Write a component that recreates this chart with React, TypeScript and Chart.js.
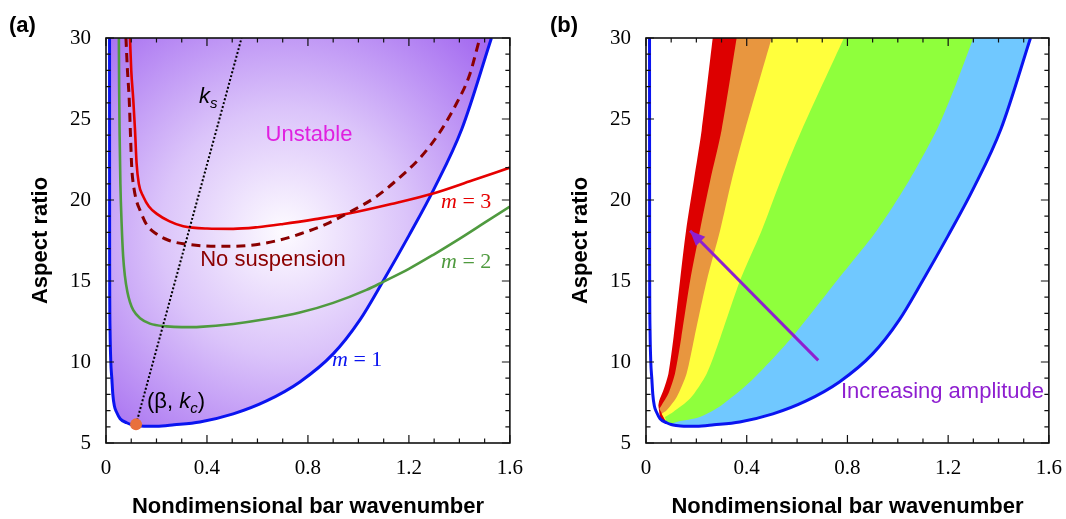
import React, { useEffect, useRef } from 'react';
import { Chart, registerables } from 'chart.js';

Chart.register(...registerables);

// ---------------- data ----------------
const xTickValues = [0, 0.4, 0.8, 1.2, 1.6];
const xTickLabels = ['0', '0.4', '0.8', '1.2', '1.6'];
const yTickValues = [5, 10, 15, 20, 25, 30];
const yTickLabels = ['5', '10', '15', '20', '25', '30'];

// m = 1 neutral curve (shared by both panels)
const m1K = [0.014, 0.0142, 0.0145, 0.016, 0.019, 0.023, 0.027, 0.033, 0.042, 0.056, 0.082, 0.1, 0.119, 0.15, 0.2, 0.27, 0.372, 0.504, 0.636, 0.768, 0.9, 1.006, 1.098, 1.2, 1.3, 1.41, 1.527];
const m1A = [30, 22, 16, 12, 10, 9.0, 8.0, 7.3, 6.9, 6.5, 6.25, 6.14, 6.08, 6.03, 6.03, 6.12, 6.3, 6.8, 7.6, 8.77, 10.5, 12.6, 15.0, 17.8, 20.7, 24.4, 30];

// m = 2
const m2K = [0.051, 0.052, 0.054, 0.057, 0.062, 0.068, 0.075, 0.085, 0.095, 0.108, 0.135, 0.174, 0.24, 0.3, 0.372, 0.504, 0.636, 0.768, 0.9, 1.032, 1.098, 1.2, 1.3, 1.4, 1.5, 1.6];
const m2A = [30, 27, 24, 21, 18.5, 16.5, 15.3, 14.3, 13.7, 13.2, 12.7, 12.37, 12.2, 12.15, 12.17, 12.35, 12.65, 13.05, 13.65, 14.45, 14.95, 15.75, 16.65, 17.6, 18.6, 19.6];

// m = 3
const m3K = [0.095, 0.1, 0.108, 0.115, 0.121, 0.13, 0.148, 0.17, 0.2, 0.25, 0.306, 0.4, 0.504, 0.6, 0.702, 0.83, 0.966, 1.13, 1.296, 1.45, 1.6];
const m3A = [30, 28, 26.2, 24.3, 22.3, 21.0, 20.2, 19.6, 19.16, 18.7, 18.38, 18.24, 18.22, 18.32, 18.52, 18.82, 19.18, 19.75, 20.4, 21.2, 22.0];

// no-suspension curve (dashed)
const noSuspK = [0.079, 0.085, 0.092, 0.097, 0.102, 0.11, 0.12, 0.135, 0.16, 0.2, 0.25, 0.306, 0.438, 0.57, 0.68, 0.768, 0.87, 0.966, 1.07, 1.164, 1.25, 1.323, 1.39, 1.44, 1.481];
const noSuspA = [30, 28, 26.2, 24, 22, 20.8, 20, 19.36, 18.5, 17.9, 17.5, 17.3, 17.14, 17.2, 17.5, 17.9, 18.5, 19.26, 20.2, 21.4, 22.7, 24.2, 26.0, 27.7, 30];

// k_s line and critical point (beta, k_c)
const ksK = [0.119, 0.537];
const ksA = [6.15, 30];
const critK = [0.119];
const critA = [6.15];

// panel (b) band boundaries, bottom -> top
const b0K = [0.049, 0.053, 0.069, 0.089, 0.11, 0.135, 0.159, 0.19, 0.221, 0.265];
const b0A = [7.33, 7.64, 8.25, 9.28, 11.6, 15.0, 18.1, 21.2, 24.3, 30];
const b1K = [0.053, 0.062, 0.089, 0.115, 0.14, 0.175, 0.214, 0.255, 0.30, 0.36];
const b1A = [7.12, 7.33, 8.05, 9.28, 11.5, 15.0, 18.1, 21.2, 24.3, 30];
const b2K = [0.062, 0.082, 0.122, 0.161, 0.192, 0.241, 0.294, 0.34, 0.393, 0.499];
const b2A = [6.81, 7.02, 7.84, 9.28, 11.5, 15.0, 18.1, 21.2, 24.3, 30];
const b3K = [0.075, 0.108, 0.175, 0.241, 0.295, 0.373, 0.459, 0.535, 0.618, 0.786];
const b3A = [6.6, 6.91, 7.74, 9.28, 11.5, 15.0, 18.1, 21.2, 24.3, 30];
const b4K = [0.102, 0.122, 0.214, 0.30, 0.42, 0.578, 0.757, 0.916, 1.045, 1.154, 1.23, 1.30];
const b4A = [6.2, 6.3, 6.6, 7.33, 8.87, 11.5, 15.0, 18.1, 21.2, 24.3, 27.1, 30];
const bandColors = ['#dd0000', '#e8963f', '#ffff3c', '#8fff3c', '#70c8ff'];

// arrow (tail -> head)
const arrowK = [0.684, 0.175];
const arrowA = [10.1, 18.1];

// ---------------- helpers ----------------
const SANS = "'Liberation Sans', Arial, Helvetica, sans-serif";
const SERIF = "'Liberation Serif', 'Times New Roman', serif";
const BLUE = '#0a14f0';
const PURPLE = '#8e1fd0';

type P = { x: number; y: number };
const pts = (k: number[], a: number[]): P[] => k.map((v, i) => ({ x: v, y: a[i] }));

function bandPolygon(k: number[], a: number[]): P[] {
  const left = pts(k, a);
  const tipK = k[0];
  const right = pts(m1K, m1A).filter((p) => p.x > tipK + 0.004).reverse();
  // duplicated corner points keep the top corners sharp under spline tension
  return [...left, left[left.length - 1], right[0], ...right];
}

type Part = { t: string; f: string; dy?: number };
function drawParts(ctx: CanvasRenderingContext2D, parts: Part[], x: number, y: number, color: string, align: 'left' | 'center' = 'left') {
  ctx.fillStyle = color;
  ctx.textBaseline = 'alphabetic';
  ctx.textAlign = 'left';
  let w = 0;
  for (const p of parts) { ctx.font = p.f; w += ctx.measureText(p.t).width; }
  let cx = align === 'center' ? x - w / 2 : x;
  for (const p of parts) {
    ctx.font = p.f;
    ctx.fillText(p.t, cx, y + (p.dy || 0));
    cx += ctx.measureText(p.t).width;
  }
}

function framePlugin(id: string, texts: (ctx: CanvasRenderingContext2D, chart: any) => void) {
  return {
    id,
    afterDatasetsDraw(chart: any) {
      const { ctx, chartArea } = chart;
      const { left, right, top, bottom } = chartArea;
      const xs = chart.scales.x;
      const ys = chart.scales.y;
      ctx.save();
      ctx.strokeStyle = '#111';
      ctx.lineWidth = 1.2;
      ctx.beginPath();
      for (let i = 0; i <= 16; i++) {
        const px = xs.getPixelForValue(i * 0.1);
        const L = i % 4 === 0 ? 8 : 4.5;
        ctx.moveTo(px, bottom); ctx.lineTo(px, bottom - L);
        ctx.moveTo(px, top); ctx.lineTo(px, top + L);
      }
      for (let v = 5; v <= 30; v++) {
        const py = ys.getPixelForValue(v);
        const L = v % 5 === 0 ? 8 : 4.5;
        ctx.moveTo(left, py); ctx.lineTo(left + L, py);
        ctx.moveTo(right, py); ctx.lineTo(right - L, py);
      }
      ctx.stroke();
      ctx.lineWidth = 1.6;
      ctx.strokeRect(left, top, right - left, bottom - top);
      texts(ctx, chart);
      ctx.restore();
    },
  };
}

function scalesFor(yWidth: number) {
  return {
    x: {
      type: 'linear' as const,
      min: 0,
      max: 1.6,
      afterBuildTicks: (s: any) => { s.ticks = xTickValues.map((v) => ({ value: v })); },
      afterFit: (s: any) => { s.height = 76; },
      grid: { display: false, drawTicks: false },
      border: { display: false },
      ticks: {
        callback: (v: any) => { const i = xTickValues.indexOf(Number(v)); return i >= 0 ? xTickLabels[i] : ''; },
        font: { family: SERIF, size: 21 },
        color: '#000',
        padding: 13,
        maxRotation: 0,
        autoSkip: false,
      },
      title: {
        display: true,
        text: 'Nondimensional bar wavenumber',
        font: { family: SANS, size: 22, weight: 'bold' as const, lineHeight: 1 },
        color: '#000',
        padding: { top: 0, bottom: 1 },
      },
    },
    y: {
      type: 'linear' as const,
      min: 5,
      max: 30,
      afterBuildTicks: (s: any) => { s.ticks = yTickValues.map((v) => ({ value: v })); },
      afterFit: (s: any) => { s.width = yWidth; },
      grid: { display: false, drawTicks: false },
      border: { display: false },
      ticks: {
        callback: (v: any) => { const i = yTickValues.indexOf(Number(v)); return i >= 0 ? yTickLabels[i] : ''; },
        font: { family: SERIF, size: 21 },
        color: '#000',
        padding: 15,
        autoSkip: false,
      },
      title: {
        display: true,
        text: 'Aspect ratio',
        font: { family: SANS, size: 22, weight: 'bold' as const, lineHeight: 1 },
        color: '#000',
        padding: { top: 29.5, bottom: 0 },
      },
    },
  };
}

const smooth = { pointRadius: 0, pointHoverRadius: 0, fill: false, cubicInterpolationMode: 'monotone' as const };

function configA(): any {
  return {
    type: 'line',
    data: {
      datasets: [
        {
          ...smooth,
          label: 'm = 1',
          data: pts(m1K, m1A),
          borderColor: BLUE,
          borderWidth: 3,
          fill: 'shape',
          backgroundColor: (c: any) => {
            const chart = c.chart;
            const ca = chart.chartArea;
            if (!ca) return 'rgba(0,0,0,0)';
            const cx = ca.left + (ca.right - ca.left) * 0.44;
            const cy = ca.top + (ca.bottom - ca.top) * 0.48;
            const g = chart.ctx.createRadialGradient(cx, cy, 0, cx, cy, 275);
            g.addColorStop(0, '#fdfbff');
            g.addColorStop(0.45, '#dbc4fa');
            g.addColorStop(1, '#a46af0');
            return g;
          },
          order: 10,
        },
        { ...smooth, label: 'm = 2', data: pts(m2K, m2A), borderColor: '#4f9a3f', borderWidth: 2.6, order: 5 },
        { ...smooth, label: 'm = 3', data: pts(m3K, m3A), borderColor: '#e60000', borderWidth: 2.6, order: 4 },
        { ...smooth, label: 'No suspension', data: pts(noSuspK, noSuspA), borderColor: '#8b0000', borderWidth: 3, borderDash: [9, 6], order: 3 },
        { pointRadius: 0, fill: false, label: 'ks', data: pts(ksK, ksA), borderColor: '#000', borderWidth: 2, borderDash: [2, 2], tension: 0, order: 2 },
        {
          label: 'critical', data: pts(critK, critA), showLine: false, pointRadius: 6, pointHoverRadius: 6,
          pointBackgroundColor: '#e8703c', pointBorderWidth: 0, pointBorderColor: '#e8703c', order: 1,
        },
      ],
    },
    options: {
      animation: false,
      responsive: false,
      events: [],
      layout: { padding: { left: 0, top: 38, right: 26, bottom: 0 } },
      plugins: { legend: { display: false }, tooltip: { enabled: false } },
      scales: scalesFor(106),
    },
    plugins: [
      framePlugin('frameA', (ctx) => {
        drawParts(ctx, [{ t: '(a)', f: `bold 22px ${SANS}` }], 9, 32, '#000');
        drawParts(ctx, [{ t: 'k', f: `italic 22px ${SANS}` }, { t: 's', f: `italic 15px ${SANS}`, dy: 5 }], 199, 103, '#000');
        drawParts(ctx, [{ t: 'Unstable', f: `22px ${SANS}` }], 309, 141, '#e020e0', 'center');
        drawParts(ctx, [{ t: 'No suspension', f: `22px ${SANS}` }], 273, 266, '#8b0000', 'center');
        drawParts(ctx, [{ t: 'm', f: `italic 22px ${SERIF}` }, { t: ' = 3', f: `22px ${SERIF}` }], 441, 208, '#e60000');
        drawParts(ctx, [{ t: 'm', f: `italic 22px ${SERIF}` }, { t: ' = 2', f: `22px ${SERIF}` }], 441, 268, '#4f9a3f');
        drawParts(ctx, [{ t: 'm', f: `italic 22px ${SERIF}` }, { t: ' = 1', f: `22px ${SERIF}` }], 332, 366, BLUE);
        drawParts(ctx, [
          { t: '(β, ', f: `22px ${SANS}` },
          { t: 'k', f: `italic 22px ${SANS}` },
          { t: 'c', f: `italic 15px ${SANS}`, dy: 5 },
          { t: ')', f: `22px ${SANS}` },
        ], 147, 408, '#000');
      }),
    ],
  };
}

function configB(): any {
  const bands = [
    [b0K, b0A], [b1K, b1A], [b2K, b2A], [b3K, b3A], [b4K, b4A],
  ].map(([k, a], i) => ({
    label: 'band' + i,
    data: bandPolygon(k, a),
    fill: 'shape',
    backgroundColor: bandColors[i],
    borderColor: 'rgba(0,0,0,0)',
    borderWidth: 1,
    pointRadius: 0,
    tension: 0.25,
    order: 20 - i,
  }));
  return {
    type: 'line',
    data: {
      datasets: [
        ...bands,
        { ...smooth, label: 'm = 1', data: pts(m1K, m1A), borderColor: BLUE, borderWidth: 3, order: 2 },
        { pointRadius: 0, fill: false, label: 'arrow', data: pts(arrowK, arrowA), borderColor: PURPLE, borderWidth: 3, tension: 0, order: 1 },
      ],
    },
    options: {
      animation: false,
      responsive: false,
      events: [],
      layout: { padding: { left: 0, top: 38, right: 26, bottom: 0 } },
      plugins: { legend: { display: false }, tooltip: { enabled: false } },
      scales: scalesFor(106),
    },
    plugins: [
      framePlugin('frameB', (ctx, chart) => {
        const meta = chart.getDatasetMeta(6);
        const p0 = meta.data[0];
        const p1 = meta.data[1];
        if (p0 && p1) {
          const ang = Math.atan2(p1.y - p0.y, p1.x - p0.x);
          const L = 15, W = 6.5;
          ctx.fillStyle = PURPLE;
          ctx.beginPath();
          ctx.moveTo(p1.x, p1.y);
          ctx.lineTo(p1.x - L * Math.cos(ang) + W * Math.sin(ang), p1.y - L * Math.sin(ang) - W * Math.cos(ang));
          ctx.lineTo(p1.x - L * Math.cos(ang) - W * Math.sin(ang), p1.y - L * Math.sin(ang) + W * Math.cos(ang));
          ctx.closePath();
          ctx.fill();
        }
        drawParts(ctx, [{ t: '(b)', f: `bold 22px ${SANS}` }], 10, 32, '#000');
        drawParts(ctx, [{ t: 'Increasing amplitude', f: `22px ${SANS}` }], 301, 398, PURPLE);
      }),
    ],
  };
}

export default function App() {
  const refA = useRef<HTMLCanvasElement>(null);
  const refB = useRef<HTMLCanvasElement>(null);
  useEffect(() => {
    const a = new Chart(refA.current as HTMLCanvasElement, configA());
    const b = new Chart(refB.current as HTMLCanvasElement, configB());
    return () => { a.destroy(); b.destroy(); };
  }, []);
  return (
    <div style={{ position: 'fixed', left: 0, top: 0, width: 1066, height: 519, background: '#fff', overflow: 'hidden' }}>
      <canvas ref={refA} width={536} height={519} style={{ position: 'absolute', left: 0, top: 0, width: 536, height: 519 }} />
      <canvas ref={refB} width={535} height={519} style={{ position: 'absolute', left: 540, top: 0, width: 535, height: 519 }} />
    </div>
  );
}
